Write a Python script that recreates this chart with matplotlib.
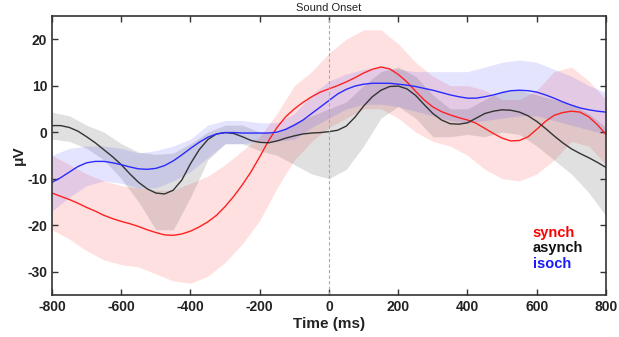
"""
ERP waveforms around sound onset: synch / asynch / isoch
"""

import numpy as np
import matplotlib
matplotlib.use('Agg')
import matplotlib.pyplot as plt

plt.rcParams['font.family'] = ['Liberation Sans', 'DejaVu Sans']
plt.rcParams['axes.unicode_minus'] = False

t = np.arange(-800, 801, 25)        # time (ms) for the mean waveforms
t_band = np.arange(-800, 801, 50)   # time (ms) for the error bands

# mean waveforms (uV)
synch = [-13.1, -13.8, -14.5, -15.3, -16.2, -17.0, -17.9, -18.6, -19.2, -19.7,
         -20.3, -21.0, -21.6, -22.1, -22.2, -21.9, -21.3, -20.4, -19.3, -17.9,
         -16.0, -13.8, -11.3, -8.5, -5.3, -1.9, 1.0, 3.3, 5.0, 6.4,
         7.6, 8.6, 9.3, 10.0, 10.8, 11.7, 12.7, 13.5, 14.0, 13.6,
         12.4, 10.8, 8.8, 6.9, 5.4, 4.4, 3.7, 3.1, 2.6, 1.9,
         0.8, -0.3, -1.3, -1.9, -1.8, -1.0, 0.6, 2.3, 3.6, 4.2,
         4.5, 4.3, 3.3, 1.6, -0.5]
asynch = [1.4, 1.4, 1.0, 0.2, -1.0, -2.3, -3.8, -5.3, -7.0, -9.0,
          -10.8, -12.2, -13.1, -13.3, -12.5, -10.3, -6.8, -3.8, -1.6, -0.4,
          -0.1, -0.3, -1.0, -1.8, -2.2, -2.3, -1.9, -1.3, -0.8, -0.4,
          -0.2, -0.1, 0.1, 0.4, 1.3, 3.2, 5.6, 7.6, 9.0, 9.8,
          9.9, 9.3, 7.9, 5.9, 4.0, 2.6, 1.8, 1.7, 2.0, 3.0,
          4.0, 4.5, 4.8, 4.7, 4.3, 3.5, 2.3, 0.8, -0.8, -2.3,
          -3.6, -4.6, -5.5, -6.5, -7.6]
isoch = [-10.8, -9.8, -8.6, -7.4, -6.6, -6.3, -6.3, -6.6, -7.0, -7.5,
         -7.9, -8.0, -7.8, -7.2, -6.2, -4.9, -3.5, -2.2, -1.1, -0.4,
         -0.1, -0.1, -0.2, -0.2, -0.2, -0.2, 0.0, 0.6, 1.5, 2.6,
         4.0, 5.4, 6.8, 8.2, 9.2, 9.9, 10.3, 10.5, 10.5, 10.5,
         10.3, 10.1, 9.8, 9.4, 9.0, 8.5, 8.0, 7.6, 7.3, 7.3,
         7.6, 8.0, 8.5, 8.9, 9.0, 8.9, 8.6, 8.0, 7.3, 6.5,
         5.8, 5.2, 4.8, 4.5, 4.3]

# shaded error bands (lower / upper)
synch_lo = [-21, -23, -25.5, -27.5, -28.5, -29, -30.5, -32, -32.5, -31, -28,
            -24, -19, -12, -6, -2, 1, 3, 5, 5, 3, 0, -2, -3, -5,
            -8, -10, -10.5, -9, -6, -2, -3, -7]
synch_hi = [-5, -7, -9, -10.5, -11.5, -12, -12.5, -12.5, -11, -9.5, -7,
            -4, -1, 4, 10, 13, 17, 20, 22, 22, 19, 15, 12, 10, 10,
            9, 7, 7, 9, 13, 14, 11, 7]
asynch_lo = [-1.5, -2, -3.5, -6, -10, -15, -21, -21, -14, -6, -2.5,
             -2.5, -4, -5, -7, -9, -10, -8, -3, 3, 5.5, 3, -1, -1, -0.5,
             -1, 0, -0.5, -3, -6, -9, -13, -18]
asynch_hi = [4.3, 3.5, 1.5, 0, -2.5, -4.3, -4.8, -4.5, -2.5, 0, 1.5,
             1.5, 0, 0, 2, 3.5, 5, 6.5, 10, 13, 14, 12, 8, 5, 5,
             7, 9, 9, 8, 7, 6, 4, 1]
isoch_lo = [-17, -14, -11.5, -10.5, -11, -12, -12, -10.5, -8.5, -5.5, -2.5,
            -2.5, -2, -2, -1.5, 1, 3, 5, 6, 6, 5.5, 4.5, 3.5, 2.5, 2,
            2.5, 3, 3.5, 3.5, 2.5, 1.5, 0.5, -0.5]
isoch_hi = [-5, -3.5, -3, -3, -3.5, -4.5, -4, -3, -1.5, 1.5, 2.5,
            2.5, 2, 2, 4, 8, 11, 12.5, 13.5, 14, 13.5, 13, 13, 13, 13,
            14, 15, 15.5, 15, 13.5, 12, 10, 8.5]

fig = plt.figure(figsize=(6.19, 3.37), dpi=100)
ax = fig.add_axes([0.084, 0.125, 0.895, 0.828])

ax.fill_between(t_band, synch_lo, synch_hi, color='#ff3030', alpha=0.15, lw=0)
ax.fill_between(t_band, asynch_lo, asynch_hi, color='#404040', alpha=0.16, lw=0)
ax.fill_between(t_band, isoch_lo, isoch_hi, color='#3030ff', alpha=0.13, lw=0)

ax.plot(t, synch, color='#ff2020', lw=1.0)
ax.plot(t, asynch, color='#333333', lw=1.0)
ax.plot(t, isoch, color='#2a2aff', lw=1.0)

ax.axvline(0, color='#aaaaaa', lw=0.8, ls=(0, (3, 2)))
ax.text(0, 25.6, 'Sound Onset', ha='center', va='bottom', fontsize=8, color='#222222')

ax.set_xlim(-800, 800)
ax.set_ylim(-35, 25)
ax.set_xticks(np.arange(-800, 801, 200))
ax.set_yticks(np.arange(-30, 21, 10))
ax.tick_params(direction='in', top=True, right=True, length=4, width=1,
               colors='#333333', labelsize=10, labelcolor='#222222')
for lab in ax.get_xticklabels() + ax.get_yticklabels():
    lab.set_fontweight('bold')
for s in ax.spines.values():
    s.set_color('#333333')
    s.set_linewidth(1.2)

ax.set_xlabel('Time (ms)', fontsize=11, fontweight='bold', color='#222222', labelpad=2)
ax.set_ylabel('μV', fontsize=11, fontweight='bold', color='#222222', labelpad=1)

ax.text(0.868, 0.222, 'synch', color='#ff0000', fontsize=10.5, fontweight='bold',
        transform=ax.transAxes, va='center')
ax.text(0.868, 0.168, 'asynch', color='#111111', fontsize=10.5, fontweight='bold',
        transform=ax.transAxes, va='center')
ax.text(0.868, 0.112, 'isoch', color='#1a1aff', fontsize=10.5, fontweight='bold',
        transform=ax.transAxes, va='center')

plt.savefig('out.png', dpi=100)
